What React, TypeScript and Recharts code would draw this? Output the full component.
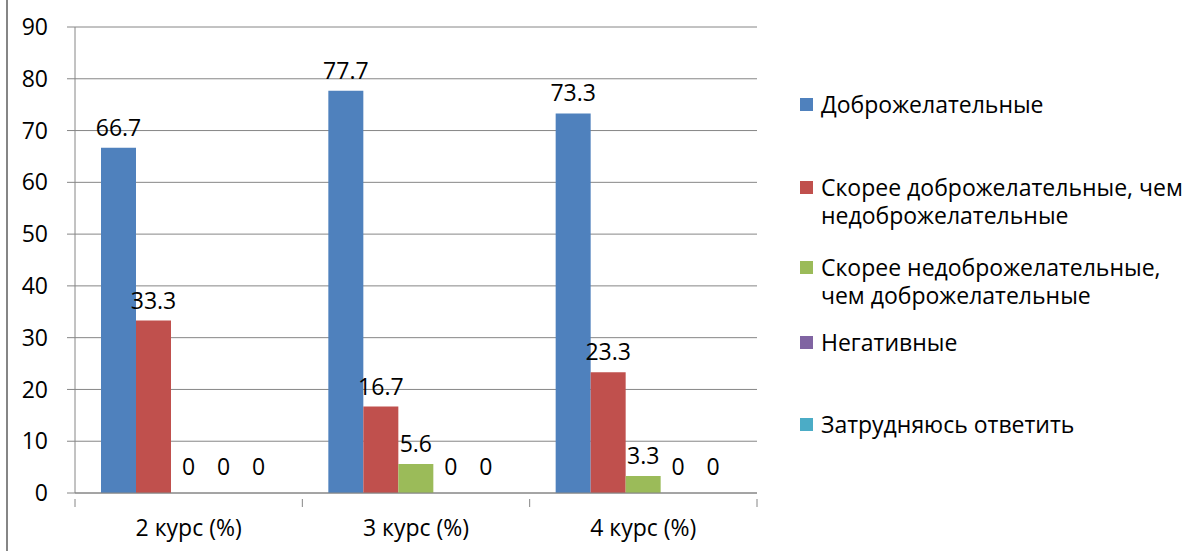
import React from 'react';
import { BarChart, Bar, XAxis, YAxis, CartesianGrid, LabelList } from 'recharts';

const courses = ['2 курс (%)', '3 курс (%)', '4 курс (%)'];
const seriesNames = [
  'Доброжелательные',
  'Скорее доброжелательные, чем недоброжелательные',
  'Скорее недоброжелательные, чем доброжелательные',
  'Негативные',
  'Затрудняюсь ответить',
];
const friendly = [66.7, 77.7, 73.3];
const ratherFriendly = [33.3, 16.7, 23.3];
const ratherUnfriendly = [0, 5.6, 3.3];
const negative = [0, 0, 0];
const hardToSay = [0, 0, 0];
const yTicks = [0, 10, 20, 30, 40, 50, 60, 70, 80, 90];

const colors = ['#4F81BD', '#C0504D', '#9BBB59', '#8064A2', '#4BACC6'];
const keys = ['s0', 's1', 's2', 's3', 's4'];
const allSeries = [friendly, ratherFriendly, ratherUnfriendly, negative, hardToSay];

const data = courses.map((name, i) => {
  const row: any = { name };
  allSeries.forEach((s, k) => (row[keys[k]] = s[i]));
  return row;
});

const FONT = '"Open Sans", sans-serif';
const AXIS = '#868686';
const FS = 23;

// legend rows, top of each item (px)
const legendTops = [90, 173, 253, 328, 410];

const SideLegend = () => (
  <div style={{ position: 'absolute', left: 800, top: 0, width: 404, height: 551, fontFamily: FONT, fontSize: FS, color: '#000' }}>
    {seriesNames.map((n, i) => (
      <div key={n} style={{ position: 'absolute', left: 0, top: legendTops[i], display: 'flex', alignItems: 'flex-start' }}>
        <div style={{ width: 13, height: 13, background: colors[i], marginTop: 8, marginRight: 8, flex: 'none' }} />
        <div style={{ width: 378, lineHeight: '28px' }}>{n}</div>
      </div>
    ))}
  </div>
);

// category label plus tick marks on the band edges
const CourseTick = (props: any) => {
  const { x, y, payload, index, visibleTicksCount } = props;
  const half = payload.offset || 0;
  const last = index === visibleTicksCount - 1;
  return (
    <g>
      <line x1={x - half} x2={x - half} y1={y} y2={y + 8} stroke={AXIS} />
      {last && <line x1={x + half} x2={x + half} y1={y} y2={y + 8} stroke={AXIS} />}
      <text x={x} y={y + 31} textAnchor="middle" dominantBaseline="middle" fill="#000" fontSize={FS} fontFamily={FONT}>
        {payload.value}
      </text>
    </g>
  );
};

// value label above the bar; Excel lifts the zero labels a little more
const ValueLabel = (props: any) => {
  const { x, y, width, value } = props;
  const lift = value === 0 ? 18 : 12;
  return (
    <text x={x + width / 2} y={y - lift} textAnchor="middle" fill="#000" fontSize={FS} fontFamily={FONT}>
      {value}
    </text>
  );
};

export default function App() {
  return (
    <div style={{ position: 'absolute', left: 0, top: 0, width: 1204, height: 551, background: '#fff' }}>
      <BarChart
        width={1204}
        height={551}
        data={data}
        margin={{ top: 27, right: 447, left: 0, bottom: 0 }}
        barGap={0}
        barCategoryGap={26}
        style={{ fontFamily: FONT }}
      >
        <CartesianGrid vertical={false} stroke={AXIS} strokeWidth={1} />
        <XAxis
          dataKey="name"
          height={58}
          tickLine={false}
          axisLine={{ stroke: AXIS }}
          tick={<CourseTick />}
          tickMargin={0}
          interval={0}
        />
        <YAxis
          width={75}
          domain={[0, 90]}
          ticks={yTicks}
          tickSize={8}
          tickMargin={19}
          stroke={AXIS}
          tick={{ fill: '#000', fontSize: FS }}
          interval={0}
        />
        {keys.map((k, i) => (
          <Bar key={k} dataKey={k} name={seriesNames[i]} fill={colors[i]} minPointSize={0.01} isAnimationActive={false}>
            <LabelList dataKey={k} content={<ValueLabel />} />
          </Bar>
        ))}
      </BarChart>
      <SideLegend />
      {/* frame edge of the original chart area */}
      <div style={{ position: 'absolute', left: 6, top: 0, width: 2, height: 551, background: AXIS, zIndex: 10 }} />
    </div>
  );
}
